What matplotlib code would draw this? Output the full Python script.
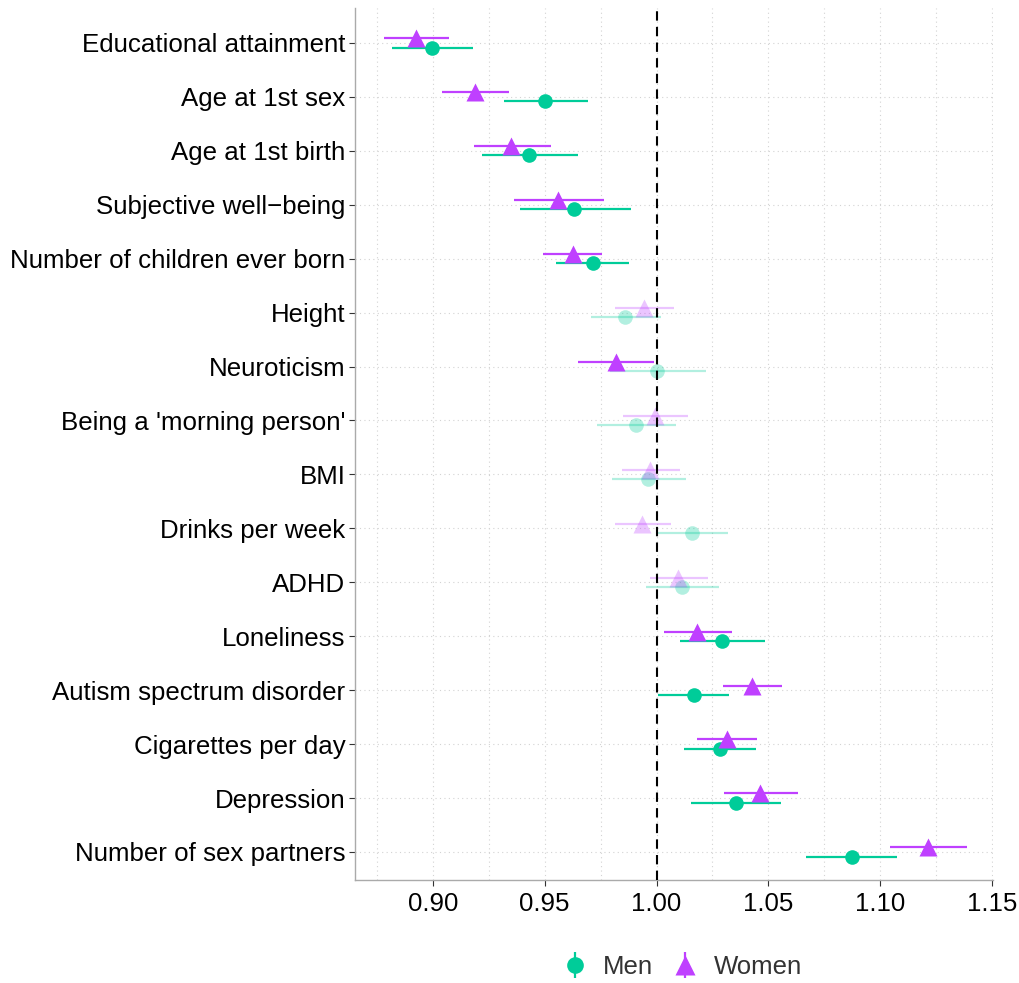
import numpy as np
import matplotlib
matplotlib.use("Agg")
import matplotlib.pyplot as plt
from matplotlib.ticker import MultipleLocator

plt.rcParams["font.family"] = ["Liberation Sans", "DejaVu Sans"]

traits = ["Educational attainment", "Age at 1st sex", "Age at 1st birth",
          "Subjective well\u2212being", "Number of children ever born", "Height",
          "Neuroticism", "Being a 'morning person'", "BMI", "Drinks per week",
          "ADHD", "Loneliness", "Autism spectrum disorder", "Cigarettes per day",
          "Depression", "Number of sex partners"]

men_est = [0.8997, 0.9503, 0.9432, 0.9632, 0.9714, 0.9861, 1.0003, 0.9909,
           0.9960, 1.0157, 1.0112, 1.0294, 1.0166, 1.0282, 1.0354, 1.0872]
men_lo = [0.8818, 0.9320, 0.9221, 0.9390, 0.9552, 0.9705, 0.9794, 0.9733,
          0.9800, 1.0001, 0.9955, 1.0104, 1.0006, 1.0121, 1.0154, 1.0670]
men_hi = [0.9180, 0.9692, 0.9650, 0.9884, 0.9879, 1.0021, 1.0220, 1.0085,
          1.0130, 1.0320, 1.0278, 1.0483, 1.0325, 1.0443, 1.0558, 1.1077]
men_sig = [1, 1, 1, 1, 1, 0, 0, 0, 0, 0, 0, 1, 1, 1, 1, 1]

women_est = [0.8926, 0.9190, 0.9351, 0.9560, 0.9625, 0.9943, 0.9820, 0.9994,
             0.9973, 0.9937, 1.0094, 1.0182, 1.0428, 1.0313, 1.0464, 1.1214]
women_lo = [0.8782, 0.9043, 0.9182, 0.9364, 0.9494, 0.9815, 0.9651, 0.9850,
            0.9845, 0.9813, 0.9969, 1.0033, 1.0297, 1.0182, 1.0300, 1.1044]
women_hi = [0.9073, 0.9339, 0.9529, 0.9763, 0.9758, 1.0076, 0.9988, 1.0139,
            1.0106, 1.0063, 1.0228, 1.0337, 1.0563, 1.0448, 1.0631, 1.1386]
women_sig = [1, 1, 1, 1, 1, 0, 1, 0, 0, 0, 0, 1, 1, 1, 1, 1]

GREEN = "#00CC99"
PURPLE = "#BF40FF"
FADE = 0.3

fig = plt.figure(figsize=(10.19, 9.83), dpi=100)
ax = fig.add_axes([0.3484, 0.1048, 0.6262, 0.8872])

ypos = np.arange(1, len(traits) + 1)
off = 0.085


def draw(est, lo, hi, sig, dy, color, marker, ms):
    for i in range(len(est)):
        a = 1.0 if sig[i] else FADE
        y = ypos[i] + dy
        ax.plot([lo[i], hi[i]], [y, y], color=color, lw=1.6, alpha=a,
                solid_capstyle="butt", zorder=3)
        ax.plot(est[i], y, marker=marker, color=color, ms=ms, mec="none",
                alpha=a, zorder=4)


draw(men_est, men_lo, men_hi, men_sig, off, GREEN, "o", 10.5)
draw(women_est, women_lo, women_hi, women_sig, -off, PURPLE, "^", 13.5)

ax.axvline(1.0, color="black", lw=1.5, dashes=(4.5, 3), zorder=5)

ax.set_xlim(0.8652, 1.1505)
ax.set_ylim(16.52, 0.35)
ax.set_yticks(ypos)
ax.set_yticklabels(traits)
ax.xaxis.set_minor_locator(MultipleLocator(0.025))
xt = np.arange(0.90, 1.151, 0.05)
ax.set_xticks(xt)
ax.set_xticklabels([f"{v:.2f}" for v in xt])

ax.grid(True, which="both", axis="x", color="#d3d3d3", lw=0.8, ls=(0, (1, 3)))
ax.grid(True, which="major", axis="y", color="#d3d3d3", lw=0.8, ls=(0, (1, 3)))
ax.set_axisbelow(True)

for sp in ("top", "right"):
    ax.spines[sp].set_visible(False)
for sp in ("left", "bottom"):
    ax.spines[sp].set_color("#aaaaaa")
    ax.spines[sp].set_linewidth(1.0)

ax.tick_params(axis="both", which="major", length=4, width=0.8, color="#333333",
               labelsize=18.6, labelcolor="black")
ax.tick_params(axis="x", which="minor", length=0)
ax.tick_params(axis="x", pad=5)
ax.tick_params(axis="y", pad=3)

# legend
hm = ax.errorbar([], [], yerr=[], fmt="o", color=GREEN, ms=12, mec="none",
                 elinewidth=1.6)
hw = ax.errorbar([], [], yerr=[], fmt="^", color=PURPLE, ms=14, mec="none",
                 elinewidth=1.6)
fig.legend([hm, hw], ["Men", "Women"], loc="center", bbox_to_anchor=(0.668, 0.016),
           ncol=2, frameon=False, fontsize=18.5, handlelength=1.2,
           handletextpad=0.5, columnspacing=0.65, labelcolor="#333333")

fig.savefig("out.png", dpi=100)
